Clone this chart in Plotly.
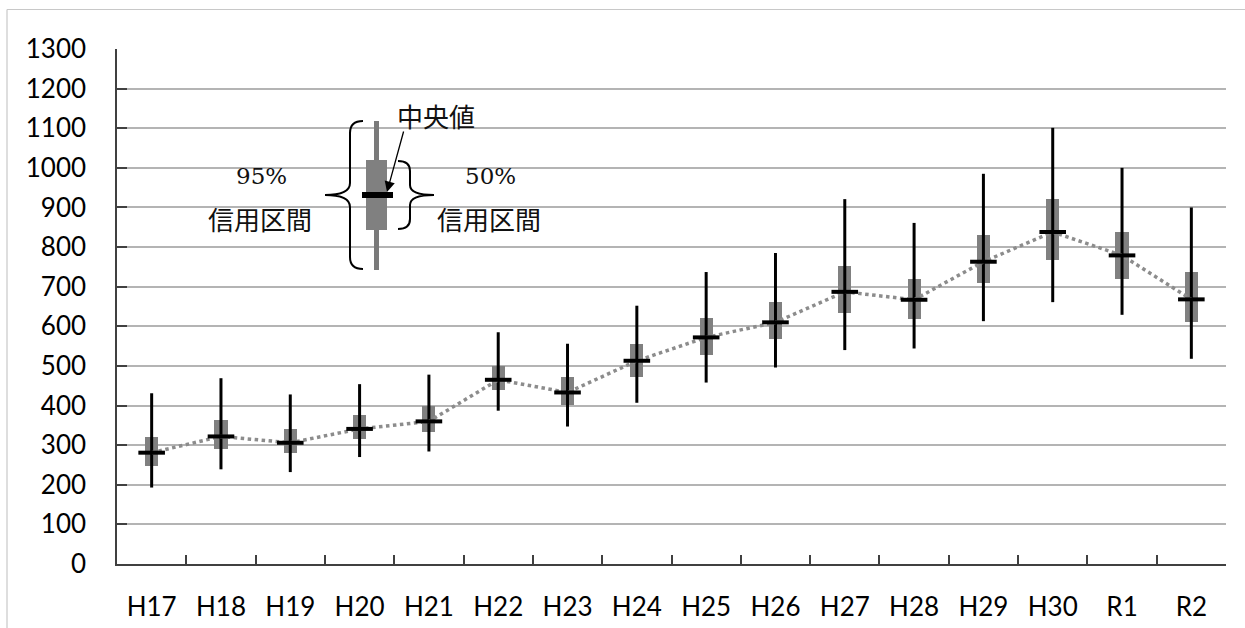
import plotly.graph_objects as go

# ---- data ----
years = ["H17", "H18", "H19", "H20", "H21", "H22", "H23", "H24",
         "H25", "H26", "H27", "H28", "H29", "H30", "R1", "R2"]
median = [281, 322, 306, 341, 360, 465, 433, 513, 572, 610, 687, 667, 763, 838, 779, 668]
q25 = [247, 290, 279, 315, 334, 439, 402, 473, 527, 568, 633, 619, 709, 768, 720, 612]
q75 = [320, 364, 342, 377, 400, 501, 471, 556, 620, 662, 751, 719, 830, 922, 839, 738]
lo95 = [193, 239, 232, 270, 284, 387, 347, 407, 458, 496, 540, 544, 613, 661, 629, 518]
hi95 = [431, 469, 428, 454, 478, 585, 556, 652, 737, 785, 921, 861, 985, 1101, 1000, 900]
y_ticks = list(range(0, 1301, 100))

# ---- geometry helpers (plot area in pixels) ----
W, H = 1245, 628
L, R, T, B = 117, 1226, 49, 564


def px(x):
    return (x - L) / (R - L)


def py(y):
    return (B - y) / (B - T)


fig = go.Figure()

# whiskers (95% interval)
wx, wy = [], []
for c, lo, hi in zip(years, lo95, hi95):
    wx += [c, c, None]
    wy += [lo, hi, None]
fig.add_trace(go.Scatter(x=wx, y=wy, mode="lines",
                         line=dict(color="black", width=3),
                         hoverinfo="skip", showlegend=False))

# boxes (50% interval)
fig.add_trace(go.Bar(x=years, y=[b - a for a, b in zip(q25, q75)], base=q25,
                     width=0.19, marker=dict(color="#808080", line=dict(width=0)),
                     showlegend=False))

# dotted line through medians
fig.add_trace(go.Scatter(x=years, y=median, mode="lines",
                         line=dict(color="#8c8c8c", width=3.5, dash="dot"),
                         hoverinfo="skip", showlegend=False))

# median markers
fig.add_trace(go.Scatter(x=years, y=median, mode="markers",
                         marker=dict(symbol="line-ew", size=19,
                                     line=dict(color="black", width=4)),
                         showlegend=False))

# ---- illustration of the legend (decoration) ----
shapes = []
shapes.append(dict(type="rect", xref="paper", yref="paper",
                   x0=px(374), x1=px(379), y0=py(270), y1=py(121),
                   fillcolor="#7a7a7a", line=dict(width=0)))
shapes.append(dict(type="rect", xref="paper", yref="paper",
                   x0=px(366), x1=px(387), y0=py(230), y1=py(160),
                   fillcolor="#808080", line=dict(width=0)))
shapes.append(dict(type="rect", xref="paper", yref="paper",
                   x0=px(362), x1=px(393), y0=py(198), y1=py(192),
                   fillcolor="black", line=dict(width=0)))


def brace(pts):
    s = ""
    for p in pts:
        cmd = p[0]
        coords = " ".join(f"{px(x):.5f},{py(y):.5f}" for x, y in p[1:])
        s += f"{cmd} {coords} "
    return s


left_brace = brace([
    ("M", (363, 121)),
    ("Q", (350, 121), (350, 133)),
    ("L", (350, 183)),
    ("Q", (350, 195), (325, 195)),
    ("Q", (350, 195), (350, 207)),
    ("L", (350, 257)),
    ("Q", (350, 269), (363, 269)),
])
right_brace = brace([
    ("M", (398, 161)),
    ("Q", (410, 161), (410, 171)),
    ("L", (410, 185)),
    ("Q", (410, 195), (434, 195)),
    ("Q", (410, 195), (410, 205)),
    ("L", (410, 219)),
    ("Q", (410, 229), (398, 229)),
])
for p in (left_brace, right_brace):
    shapes.append(dict(type="path", xref="paper", yref="paper", path=p,
                       line=dict(color="black", width=2)))

# outer frame (only top and left edges are visible in the reference)
shapes.append(dict(type="line", xref="paper", yref="paper",
                   x0=px(7), x1=px(1300), y0=py(9.5), y1=py(9.5),
                   line=dict(color="#c8c8c8", width=1.2), layer="below"))
shapes.append(dict(type="line", xref="paper", yref="paper",
                   x0=px(7), x1=px(7), y0=py(9.5), y1=py(700),
                   line=dict(color="#c8c8c8", width=1.2), layer="below"))

serif = "DejaVu Serif"
cjk = "Noto Sans CJK JP"


def label(x, y, text, family, size):
    return dict(x=px(x), y=py(y), xref="paper", yref="paper", text=text,
                xanchor="center", yanchor="middle", showarrow=False,
                font=dict(family=family, size=size, color="#111111"))


annotations = [
    label(261, 176, "95%", serif, 23),
    label(260, 218, "信用区間", cjk, 26),
    label(490, 176, "50%", serif, 23),
    label(489, 218, "信用区間", cjk, 26),
    label(436, 115, "中央値", cjk, 26),
    dict(x=px(387), y=py(192), xref="paper", yref="paper", text="",
         showarrow=True, ax=17, ay=-62, arrowhead=2, arrowsize=1.6,
         arrowwidth=1.3, arrowcolor="black"),
]

fig.update_layout(
    width=W, height=H,
    margin=dict(l=L, r=W - R, t=T, b=H - B, autoexpand=False),
    paper_bgcolor="white", plot_bgcolor="white",
    font=dict(family="Lato, Open Sans, sans-serif", size=26, color="black"),
    bargap=0, barmode="overlay",
    shapes=shapes, annotations=annotations,
    xaxis=dict(type="category", categoryorder="array", categoryarray=years,
               range=[-0.5, len(years) - 0.5], automargin=False,
               showline=True, linecolor="#404040", linewidth=1.5,
               ticks="inside", tickson="boundaries", ticklen=9,
               tickcolor="#404040", tickwidth=1.5,
               showgrid=False, ticklabelstandoff=19,
               tickfont=dict(size=26)),
    yaxis=dict(range=[0, 1300], tickvals=y_ticks, automargin=False,
               showline=True, linecolor="#404040", linewidth=1.5,
               ticks="inside", ticklen=10, tickcolor="#404040", tickwidth=1.5,
               showgrid=True, gridcolor="#b4b4b4", gridwidth=1.5,
               zeroline=False, ticklabelstandoff=24,
               tickfont=dict(size=26)),
)

fig.write_html(
    "out.html",
    config={"displayModeBar": False},
    post_script="document.body.style.margin='0';document.body.style.padding='0';"
                "document.documentElement.style.overflow='hidden';",
)
